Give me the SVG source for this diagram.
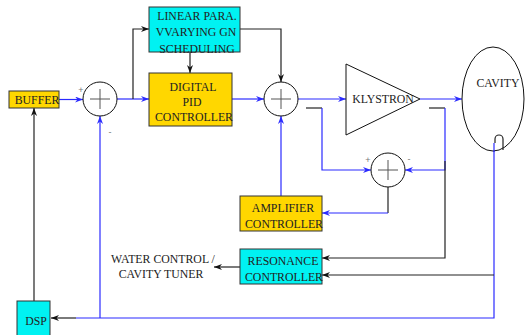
<svg xmlns="http://www.w3.org/2000/svg" width="525" height="335" viewBox="0 0 525 335">
<style>
.t{font-family:"Liberation Serif","Times New Roman",serif;font-size:11.8px;fill:#222;text-anchor:middle}
.s{font-family:"Liberation Sans",Arial,sans-serif;font-size:9px;fill:#777;text-anchor:middle}
.gold{fill:#FFD700;stroke:#333;stroke-width:1}
.cyan{fill:#00F2F2;stroke:#333;stroke-width:1}
.sum{fill:#fff;stroke:#111;stroke-width:1}
.plus{stroke:#555;stroke-width:1;fill:none}
.b{stroke:#2a2aff;stroke-width:1.2;fill:none}
.k{stroke:#222;stroke-width:1.2;fill:none}
</style>
<defs>
<marker id="ab" viewBox="0 0 8 6" refX="8" refY="3" markerWidth="8" markerHeight="6" orient="auto" markerUnits="userSpaceOnUse"><path d="M0,0 L8,3 L0,6 L2.5,3 z" fill="#2a2aff"/></marker>
<marker id="ak" viewBox="0 0 8 6" refX="8" refY="3" markerWidth="8" markerHeight="6" orient="auto" markerUnits="userSpaceOnUse"><path d="M0,0 L8,3 L0,6 L2.5,3 z" fill="#111"/></marker>
</defs>
<g id="connectors">
<path class="b" d="M59,99.5 H83" marker-end="url(#ab)"/>
<path class="b" d="M117,99 H149" marker-end="url(#ab)"/>
<path class="b" d="M232,99 H264" marker-end="url(#ab)"/>
<path class="b" d="M298,99 H346" marker-end="url(#ab)"/>
<path class="b" d="M420,99 H462" marker-end="url(#ab)"/>
<path class="b" d="M494,143 V318 H76"/>
<path class="k" d="M76,318 H51" marker-end="url(#ak)"/>
<path class="b" d="M100,318 V116" marker-end="url(#ab)"/>
<path class="b" d="M281,196 V116" marker-end="url(#ab)"/>
<path class="k" d="M306,108 H322"/>
<path class="b" d="M322,108 V170 H371" marker-end="url(#ab)"/>
<path class="k" d="M429,108 H445"/>
<path class="b" d="M445,108 V170 H405" marker-end="url(#ab)"/>
<path class="k" d="M445,161 V258 H322" marker-end="url(#ak)"/>
<path class="k" d="M388,187 V213"/>
<path class="b" d="M388,213 H322" marker-end="url(#ab)"/>
<path class="k" d="M494,275 H322" marker-end="url(#ak)"/>
<path class="k" d="M240,267 H214" marker-end="url(#ak)"/>
<path class="k" d="M34,301 V108" marker-end="url(#ak)"/>
<path class="k" d="M133,99 V29 H149" marker-end="url(#ak)"/>
<path class="k" d="M190,52 V73" marker-end="url(#ak)"/>
<path class="k" d="M240,29 H281 V82" marker-end="url(#ak)"/>
</g>
<g id="buffer"><rect class="gold" x="9" y="91" width="50" height="17"/><text class="t" x="37" y="104">BUFFER</text></g>
<g id="sum1"><circle class="sum" cx="100" cy="99" r="17"/><path class="plus" d="M90,99 H110 M100,89 V109"/><text class="s" x="81" y="93">+</text><text class="s" x="110" y="135">-</text></g>
<g id="lpv"><rect class="cyan" x="149" y="7" width="91" height="45"/><text class="t" x="197" y="20">LINEAR PARA.</text><text class="t" x="196" y="36">VVARYING GN</text><text class="t" x="197" y="53">SCHEDULING</text></g>
<g id="pid"><rect class="gold" x="149" y="73" width="83" height="53"/><text class="t" x="193" y="91">DIGITAL</text><text class="t" x="192" y="106">PID</text><text class="t" x="194" y="121">CONTROLLER</text></g>
<g id="sum2"><circle class="sum" cx="281" cy="99" r="17"/><path class="plus" d="M271,99 H291 M281,89 V109"/></g>
<g id="klystron"><path d="M346,64 L420,99 L346,135 Z" fill="#fff" stroke="#111" stroke-width="1"/><text class="t" x="383" y="103">KLYSTRON</text></g>
<g id="cavity"><ellipse cx="493" cy="99" rx="31" ry="52" fill="#fff" stroke="#111" stroke-width="1"/><text class="t" x="498" y="87">CAVITY</text><path class="k" d="M495,143 V139 A4,4 0 0 1 503,139 V150" stroke-width="1"/><path class="b" d="M494,143 V152"/></g>
<g id="sum3"><circle class="sum" cx="388" cy="170" r="17"/><path class="plus" d="M378,170 H398 M388,160 V180"/><text class="s" x="368" y="163">+</text><text class="s" x="409" y="162">-</text></g>
<g id="amp"><rect class="gold" x="240" y="196" width="82" height="35"/><text class="t" x="283" y="212">AMPLIFIER</text><text class="t" x="284" y="228">CONTROLLER</text></g>
<g id="resonance"><rect class="cyan" x="240" y="249" width="82" height="35"/><text class="t" x="283" y="265">RESONANCE</text><text class="t" x="284" y="281">CONTROLLER</text></g>
<g id="water"><text class="t" x="163" y="263">WATER CONTROL /</text><text class="t" x="161" y="278">CAVITY TUNER</text></g>
<g id="dsp"><rect class="cyan" x="17" y="301" width="33" height="40"/><text class="t" x="36" y="325">DSP</text></g>
</svg>
